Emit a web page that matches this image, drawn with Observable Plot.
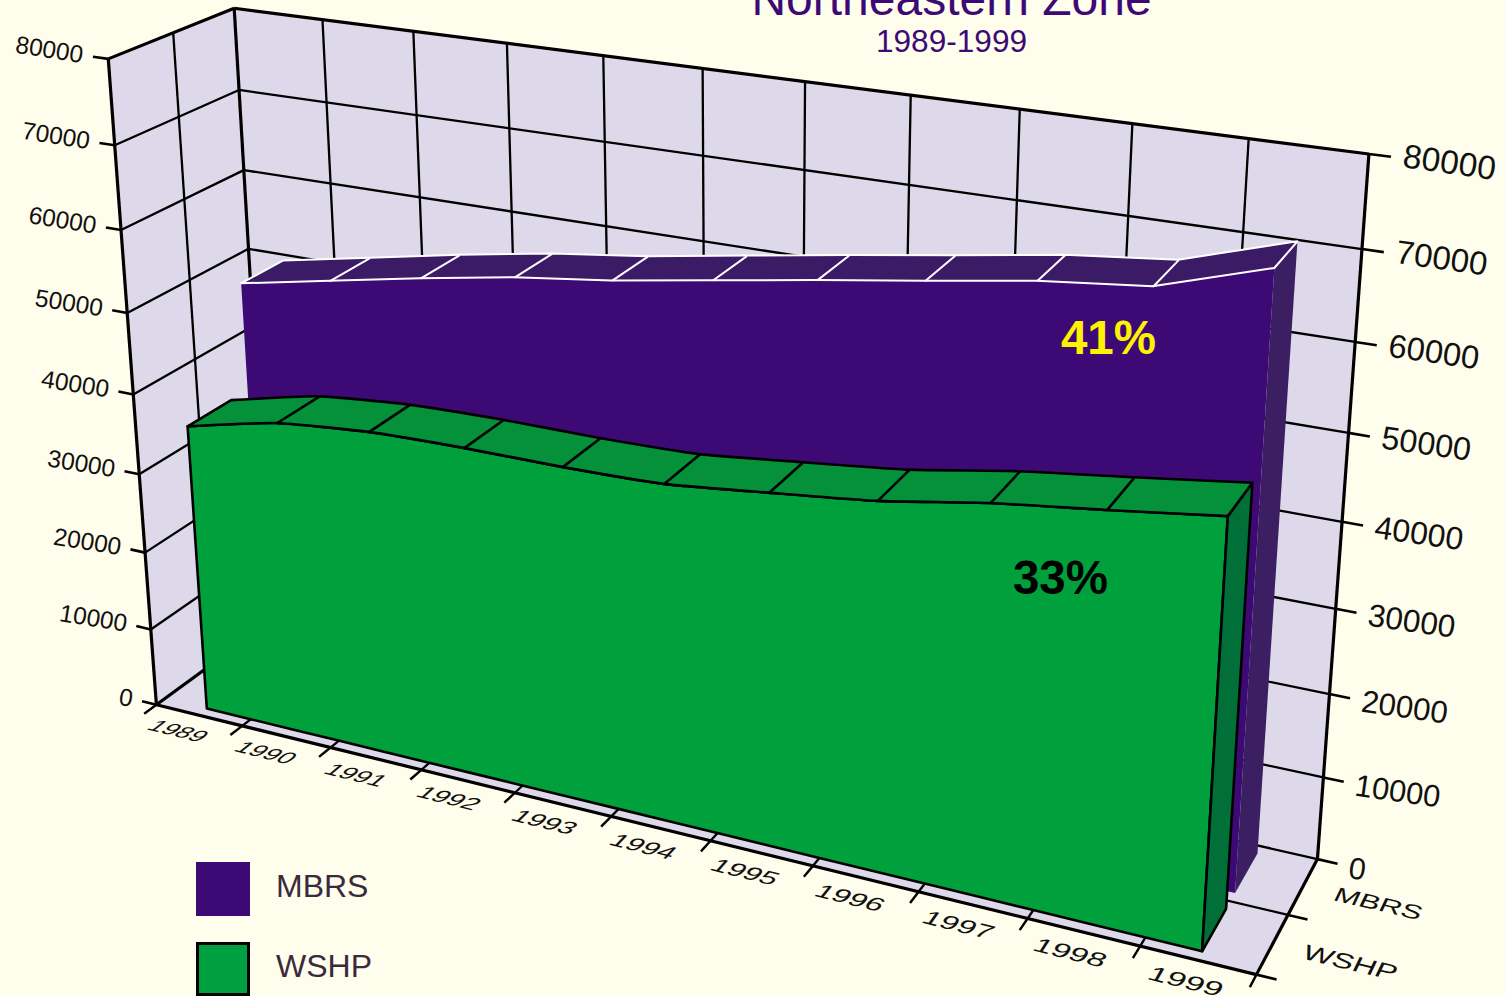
<!DOCTYPE html>
<html><head><meta charset="utf-8">
<script src="https://cdn.jsdelivr.net/npm/d3@7"></script>
<script src="https://cdn.jsdelivr.net/npm/@observablehq/plot@0.6"></script>
<style>
html,body{margin:0;padding:0;background:#FFFDEB;overflow:hidden;font-family:"Liberation Sans",Arial,sans-serif}
#page{position:relative;width:1505px;height:996px;overflow:hidden}
#page svg{position:absolute;left:0;top:0;background:transparent}
.t{position:absolute;left:0;width:1903px;text-align:center;white-space:nowrap;color:#3D0A75;line-height:1}
.sw{position:absolute;left:196px;width:54px;height:54px;box-sizing:border-box}
.lg{position:absolute;left:276px;font-size:32px;line-height:1;color:#3A2A3E}
</style></head><body>
<div id="page">
<div id="chart"></div>
<div class="t" style="top:-25px;font-size:48px">Northeastern Zone</div>
<div class="t" style="top:26px;font-size:31.6px">1989-1999</div>
<div class="sw" style="top:862px;background:#3D0A75"></div><div class="lg" style="top:870px">MBRS</div>
<div class="sw" style="top:942px;background:#00A040;border:3px solid #000"></div><div class="lg" style="top:950px">WSHP</div>
</div>
<script>
// ---- chart values ----
const years=[1989,1990,1991,1992,1993,1994,1995,1996,1997,1998,1999];
const MBRS=[49900,52100,54300,56300,57800,59700,61600,63400,65300,66600,70400];
const WSHP=[36400,39000,40100,40400,40400,40700,42000,43400,45500,47100,48800];
const valueTicks=[0,10000,20000,30000,40000,50000,60000,70000,80000];
const depthLabels=["WSHP","MBRS"];
const shares=[{label:"41%",x:9.14,d:1.14,v:60250,fill:"#FFF200"},{label:"33%",x:9.13,d:0.14,v:38770,fill:"#000"}];

// ---- camera: wall anchors (category index, depth index, value → screen) used to fit the 3-D projection ----
const anchors=[[0,0,80000,108,58],[0,0,70000,115,145],[0,0,60000,120,230],[0,0,50000,126,313],[0,0,40000,133,393],[0,0,30000,139,473],[0,0,20000,144,552],[0,0,10000,149,630],[0,0,0,155,705],[0,0,0,155,705],[0,0,0,155,705],[0,0,0,155,705],
[11,2,80000,1368,153],[11,2,70000,1362,247],[11,2,60000,1355,341],[11,2,50000,1348,433],[11,2,40000,1341,521],[11,2,30000,1336,607],[11,2,20000,1330,693],[11,2,10000,1323,777],[11,2,0,1316,859],
[0,2,80000,233,7],[0,2,70000,239,90],[0,2,60000,243,170],[0,2,50000,248,249],
[1,2,80000,322,20],[2,2,80000,413,31],[10,2,80000,1248,138],[9,2,80000,1132,124],
[11,0,0,1255,974],[1,0,0,243,724],[2,0,0,332,745],[3,0,0,423,768],[4,0,0,517,790],[10,0,0,1138,950],[11,1,0,1287,915]];
function solve(A,b){const n=b.length;A=A.map((r,i)=>[...r,b[i]]);for(let i=0;i<n;i++){let p=i;for(let k=i;k<n;k++)if(Math.abs(A[k][i])>Math.abs(A[p][i]))p=k;[A[i],A[p]]=[A[p],A[i]];for(let k=i+1;k<n;k++){const f=A[k][i]/A[i][i];for(let j=i;j<=n;j++)A[k][j]-=f*A[i][j];}}const s=Array(n);for(let i=n-1;i>=0;i--){let t=A[i][n];for(let j=i+1;j<n;j++)t-=A[i][j]*s[j];s[i]=t/A[i][i];}return s;}
const rows=[],rhs=[];
for(const [x,d,v,X0,Y0] of anchors){const u=x/11,w=d/2,t=v/80000,X=X0/1000,Y=Y0/1000;rows.push([u,w,t,1,0,0,0,0,-X*u,-X*w,-X*t]);rhs.push(X);rows.push([0,0,0,0,u,w,t,1,-Y*u,-Y*w,-Y*t]);rhs.push(Y);}
const N=Array.from({length:11},(_,i)=>Array.from({length:11},(_,j)=>d3.sum(rows,r=>r[i]*r[j])));
const B=Array.from({length:11},(_,i)=>d3.sum(rows,(r,k)=>r[i]*rhs[k]));
const p=solve(N,B);
const P=(x,d,v)=>{const u=x/11,w=d/2,t=v/80000,h=p[8]*u+p[9]*w+p[10]*t+1;return [1000*(p[0]*u+p[1]*w+p[2]*t+p[3])/h,1000*(p[4]*u+p[5]*w+p[6]*t+p[7])/h];};

// ---- helpers that turn (index, depth, value) triples into Plot marks ----
const px=a=>P(...a)[0], py=a=>P(...a)[1];
const band=(A,B,opts)=>Plot.area(A.map((a,i)=>({a,b:B[i]})),{x1:d=>px(d.a),y1:d=>py(d.a),x2:d=>px(d.b),y2:d=>py(d.b),...opts});
const seg=(pairs,opts)=>Plot.link(pairs,{x1:d=>px(d[0]),y1:d=>py(d[0]),x2:d=>px(d[1]),y2:d=>py(d[1]),stroke:"#000",strokeWidth:2.3,...opts});
const xs=d3.range(0,12), vTop=80000;
const wall="#DDD9EA";

function ribbon(vals,d0,d1,c){
  const n=vals.length, idx=vals.map((_,i)=>i+0.5);
  const frontTop=idx.map((x,i)=>[x,d0,vals[i]]), backTop=idx.map((x,i)=>[x,d1,vals[i]]), frontBase=idx.map(x=>[x,d0,0]);
  const last=n-1;
  return [
    band(frontTop,frontBase,{fill:c.front,stroke:c.faceStroke,strokeWidth:2.6,curve:c.curve,tension:0.5}),
    band([[idx[last],d0,vals[last]],[idx[last],d1,vals[last]]],[[idx[last],d0,0],[idx[last],d1,0]],{fill:c.side,stroke:c.faceStroke,strokeWidth:2.6}),
    band(backTop,frontTop,{fill:c.top,stroke:c.line,strokeWidth:c.topW,curve:c.curve,tension:0.5,strokeLinejoin:"round"}),
    seg(idx.slice(1,last).map((x,i)=>[[x,d0,vals[i+1]],[x,d1,vals[i+1]]]),{stroke:c.line,strokeWidth:c.topW})
  ];
}
const purple={front:"#3D0A75",top:"#3C1B66",side:"#3C1F63",line:"#FFFFFF",topW:2,faceStroke:"none",curve:"linear"};
const green={front:"#00A03C",top:"#04913A",side:"#006F38",line:"#000000",topW:2.6,faceStroke:"#000",curve:"cardinal"};

const chart=Plot.plot({
  width:1505,height:996,margin:0,
  style:{background:"transparent",fontFamily:'"Liberation Sans",Arial,sans-serif',overflow:"visible"},
  x:{domain:[0,1505],range:[0,1505],axis:null},
  y:{domain:[0,996],range:[0,996],axis:null},
  marks:[
    // walls and floor
    band([[0,2,0],[11,2,0]],[[0,2,vTop],[11,2,vTop]],{fill:wall}),
    band([[0,0,0],[0,2,0]],[[0,0,vTop],[0,2,vTop]],{fill:wall}),
    band([[0,0,0],[11,0,0]],[[0,2,0],[11,2,0]],{fill:wall}),
    // grid
    seg(xs.slice(1,-1).map(x=>[[x,2,0],[x,2,vTop]])),
    seg(xs.slice(1,-1).map(x=>[[x,0,0],[x,2,0]])),
    seg(valueTicks.slice(1,-1).map(v=>[[0,2,v],[11,2,v]])),
    seg(valueTicks.slice(1,-1).map(v=>[[0,0,v],[0,2,v]])),
    seg([[[0,1,0],[0,1,vTop]],[[0,1,0],[11,1,0]],[[0,2,0],[11,2,0]]]),
    // frame
    seg([[[0,0,0],[0,0,vTop]],[[0,2,0],[0,2,vTop]],[[11,2,0],[11,2,vTop]],[[0,0,vTop],[0,2,vTop]],[[0,2,vTop],[11,2,vTop]],[[0,0,0],[11,0,0]],[[11,0,0],[11,2,0]],[[0,0,0],[0,2,0]]],{strokeWidth:3.2}),
    // ticks
    seg(valueTicks.map(v=>[[0,0,v],[-0.17,0,v]]),{strokeWidth:2.6}),
    seg(valueTicks.map(v=>[[11,2,v],[11.18,2,v]]),{strokeWidth:2.6}),
    seg(xs.map(x=>[[x,0,0],[x,-0.2,0]]),{strokeWidth:2.4}),
    seg([0,1].map(d=>[[11,d,0],[11.17,d,0]]),{strokeWidth:2.6}),
    // ribbons
    ...ribbon(MBRS,1.14,1.86,purple),
    ...ribbon(WSHP,0.14,0.86,green),
    // value labels
    Plot.text(valueTicks,{x:v=>px([-0.28,0,v]),y:v=>py([-0.28,0,v]),text:String,textAnchor:"end",lineAnchor:"middle",rotate:9,fontSize:24.5,fill:"#111"}),
    Plot.text(valueTicks,{x:v=>px([11.28,2,v]),y:v=>py([11.28,2,v])+2-4*v/80000,text:String,textAnchor:"start",lineAnchor:"middle",rotate:8,fontSize:v=>30.5+3*v/80000,fill:"#111"}),
    // floor labels (get a floor-plane matrix below)
    Plot.text(years,{x:(y,i)=>px([i+0.5,-0.35,0]),y:(y,i)=>py([i+0.5,-0.35,0]),text:String,textAnchor:"middle",lineAnchor:"middle",fontSize:10,fill:"#111"}),
    Plot.text(depthLabels,{x:(s,i)=>px([11.66,i+0.5,0]),y:(s,i)=>py([11.66,i+0.5,0]),text:String,textAnchor:"middle",lineAnchor:"middle",fontSize:10,fill:"#111"}),
    // share annotations
    Plot.text(shares,{x:s=>px([s.x,s.d,s.v]),y:s=>py([s.x,s.d,s.v]),text:"label",fill:"fill",fontSize:47.5,fontWeight:"bold",textAnchor:"middle",lineAnchor:"middle"})
  ]
});
document.getElementById("chart").append(chart);

// lay the year and series labels flat on the floor plane
function flatten(labels,coord,kx,kd){
  const names=labels.map(String);
  d3.select(chart).selectAll("text").each(function(){
    const i=names.indexOf(this.textContent);
    if(i<0) return;
    const [x,d]=coord(i), c=P(x,d,0), e=0.05;
    const ax=P(x+e,d,0), ad=P(x,d+e,0);
    const a=(ax[0]-c[0])/e*kx,b=(ax[1]-c[1])/e*kx, cc=-(ad[0]-c[0])/e*kd, dd=-(ad[1]-c[1])/e*kd;
    this.setAttribute("transform",`matrix(${a} ${b} ${cc} ${dd} ${c[0]} ${c[1]})`);
  });
}
flatten(years,i=>[i+0.5,-0.35],0.0279,0.03);
flatten(depthLabels,i=>[11.66,i+0.5],0.026,0.033);
</script></body></html>
